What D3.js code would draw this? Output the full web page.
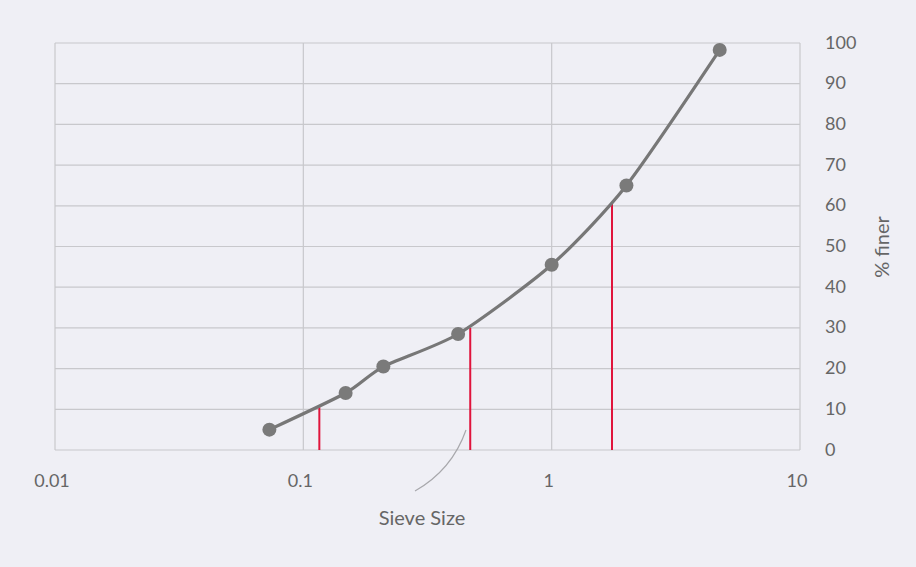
<!DOCTYPE html>
<html>
<head>
<meta charset="utf-8">
<script src="https://cdn.jsdelivr.net/npm/d3@7"></script>
<style>
  body { margin: 0; background: #efeff5; }
  svg { display: block; }
</style>
</head>
<body>
<div id="chart"></div>
<script>
// sieve analysis data
var sieveSize = [0.073, 0.148, 0.21, 0.42, 1.0, 2.0, 4.75];
var percentFiner = [5, 14, 20.5, 28.5, 45.5, 65, 98.3];
// D10, D30, D60 marks
var dSize = [0.116, 0.47, 1.75];
var dPercent = [10.5, 30, 60.5];
var xTicks = [0.01, 0.1, 1, 10];
var yTicks = [0, 10, 20, 30, 40, 50, 60, 70, 80, 90, 100];

var width = 916;
var height = 567;

var svg = d3.select("#chart").append("svg")
    .attr("width", width)
    .attr("height", height);

svg.append("rect")
    .attr("width", width)
    .attr("height", height)
    .attr("fill", "#efeff5");

var x = d3.scaleLog().domain([0.01, 10]).range([55, 800]);
var y = d3.scaleLinear().domain([0, 100]).range([450, 43]);

// grid
svg.append("g").selectAll("line")
    .data(yTicks)
    .enter().append("line")
    .attr("x1", x(0.01))
    .attr("x2", x(10))
    .attr("y1", function(d) { return y(d); })
    .attr("y2", function(d) { return y(d); })
    .attr("stroke", "#c8c8cc")
    .attr("stroke-width", 1.2);

svg.append("g").selectAll("line")
    .data(xTicks)
    .enter().append("line")
    .attr("x1", function(d) { return x(d); })
    .attr("x2", function(d) { return x(d); })
    .attr("y1", y(0))
    .attr("y2", y(100))
    .attr("stroke", "#c8c8cc")
    .attr("stroke-width", 1.2);

// axis labels
svg.append("g").selectAll("text")
    .data(xTicks)
    .enter().append("text")
    .attr("x", function(d) { return x(d) - 3; })
    .attr("y", 487)
    .style("text-anchor", "middle")
    .attr("font-family", "Lato")
    .attr("font-size", "18")
    .attr("fill", "#666666")
    .text(function(d) { return d; });

svg.append("g").selectAll("text")
    .data(yTicks)
    .enter().append("text")
    .attr("x", 825)
    .attr("y", function(d) { return y(d) + 1; })
    .attr("dominant-baseline", "middle")
    .attr("font-family", "Lato")
    .attr("font-size", "18")
    .attr("fill", "#666666")
    .text(function(d) { return d; });

svg.append("text")
    .attr("transform", "translate(889,247) rotate(-90)")
    .style("text-anchor", "middle")
    .attr("font-family", "Lato")
    .attr("font-size", "20")
    .attr("fill", "#666666")
    .text("% finer");

svg.append("text")
    .attr("x", 422)
    .attr("y", 525)
    .style("text-anchor", "middle")
    .attr("font-family", "Lato")
    .attr("font-size", "20")
    .attr("fill", "#666666")
    .text("Sieve Size");

// pencil mark
svg.append("path")
    .attr("d", "M415,491 Q452,470 466,430")
    .attr("fill", "none")
    .attr("stroke", "#a8a8ac")
    .attr("stroke-width", 1.2);

// red D lines
svg.append("g").selectAll("line")
    .data(dSize)
    .enter().append("line")
    .attr("x1", function(d) { return x(d); })
    .attr("x2", function(d) { return x(d); })
    .attr("y1", function(d, i) { return y(dPercent[i]); })
    .attr("y2", y(0))
    .attr("stroke", "#e0143c")
    .attr("stroke-width", 2);

// gradation curve
var points = sieveSize.map(function(d, i) { return [d, percentFiner[i]]; });

var line = d3.line()
    .x(function(d) { return x(d[0]); })
    .y(function(d) { return y(d[1]); })
    .curve(d3.curveCardinal.tension(0.3));

svg.append("path")
    .datum(points)
    .attr("d", line)
    .attr("fill", "none")
    .attr("stroke", "#777777")
    .attr("stroke-width", 3.2);

svg.append("g").selectAll("circle")
    .data(points)
    .enter().append("circle")
    .attr("cx", function(d) { return x(d[0]); })
    .attr("cy", function(d) { return y(d[1]); })
    .attr("r", 7)
    .attr("fill", "#7a7a7a");
</script>
</body>
</html>
